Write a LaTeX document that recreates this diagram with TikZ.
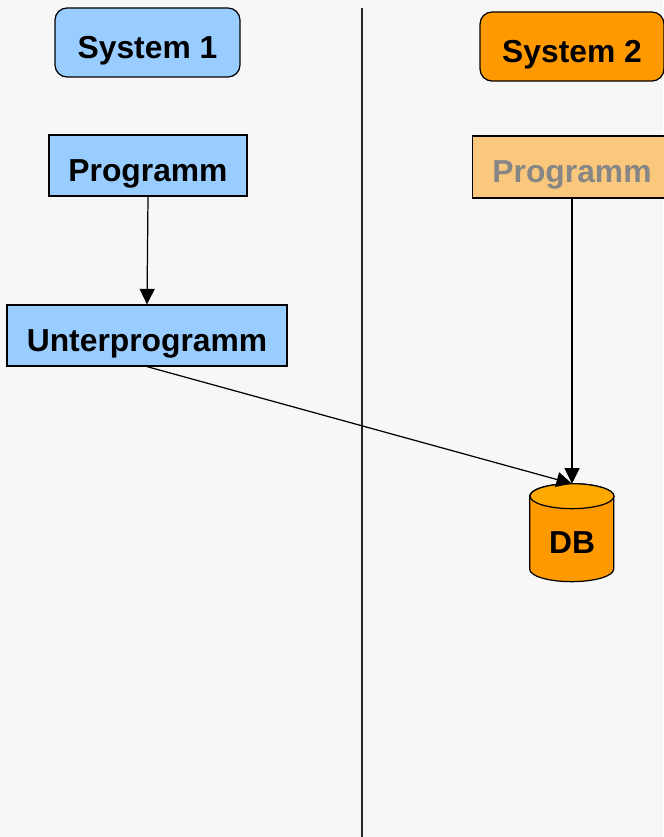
\documentclass[tikz,border=0pt]{standalone}
\usepackage{fontspec}
\setmainfont{Liberation Sans}
\usetikzlibrary{arrows.meta}
\definecolor{bluebox}{HTML}{99CCFF}
\definecolor{orangebox}{HTML}{FF9900}
\definecolor{palebox}{HTML}{FAC87C}
\definecolor{dbtop}{HTML}{FFA800}
\definecolor{page}{HTML}{F7F7F7}
\tikzset{
  label font/.style={font=\fontsize{18.1}{20}\selectfont\bfseries},
  box text/.style={label font,text height=18pt,text depth=0pt},
  system/.style={draw=black,rounded corners=0.24cm,line width=0.7pt,inner sep=0pt,
    minimum height=1.38cm,box text},
  prog/.style={draw=black,line width=0.7pt,inner sep=0pt,minimum height=1.22cm,box text},
  call/.style={-{Triangle[length=0.31cm,width=0.3cm]},black,line width=0.7pt},
  db rim/.style={x radius=0.84cm,y radius=0.25cm},
}
\begin{document}
\begin{tikzpicture}[x=0.02cm,y=-0.02cm]
\useasboundingbox[fill=page] (0,0) rectangle (663,837);
\coordinate (top) at (362,8);
\coordinate (bottom) at (362,837);
\draw[black!85,line width=0.6pt] (top)--(bottom);
\node[system,fill=bluebox,minimum width=3.7cm] (sys1) at (147.5,42.5) {System 1};
\node[system,fill=orangebox,minimum width=3.68cm] (sys2) at (572,46.5) {System 2};
\node[prog,fill=bluebox,minimum width=3.96cm] (prog1) at (148,165.5) {Programm};
\node[prog,fill=bluebox,minimum width=5.6cm] (unter) at (147,335.5) {Unterprogramm};
\node[prog,fill=palebox,text=gray!95,minimum width=3.98cm,minimum height=1.24cm] (prog2) at (572,167) {Programm};
\node[inner sep=0pt,minimum width=1.68cm,minimum height=1.96cm] (db) at (572,533) {};
\draw[black,line width=0.7pt,fill=orangebox] (db.north west) ++(0,12.5) -- ++(0,73)
  arc[start angle=180,end angle=360,db rim] -- ++(0,-73)
  arc[start angle=0,end angle=180,db rim] -- cycle;
\draw[black,line width=0.7pt,fill=dbtop] (db.north) ++(0,12.5) ellipse[db rim];
\node[label font] (dbtext) at (572,543) {DB};
\draw[call] (prog1.south)--(unter.north);
\draw[call] (unter.south)--(db.north);
\draw[call] (prog2.south)--(db.north);
\end{tikzpicture}
\end{document}
